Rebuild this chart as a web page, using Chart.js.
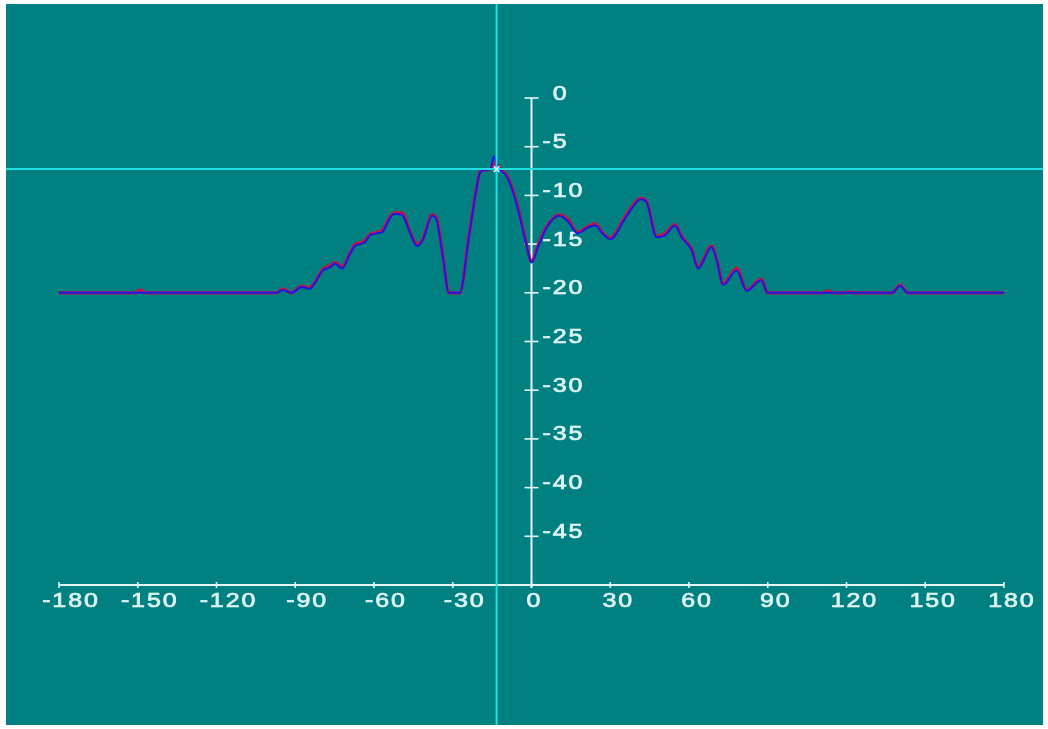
<!DOCTYPE html>
<html>
<head>
<meta charset="utf-8">
<script src="https://cdn.jsdelivr.net/npm/chart.js@4.4.0/dist/chart.umd.min.js"></script>
<style>
  html, body { margin: 0; padding: 0; background: #ffffff; }
  #wrap { width: 1048px; height: 729px; }
</style>
</head>
<body>
<div id="wrap"><canvas id="pattern" width="1048" height="729"></canvas></div>
<script>
// Radiation pattern, level (dB) against angle (degrees)
const blueAngles = [-180, -97, -94.7, -91.5, -87.5, -84.5, -83, -79.5, -76.8, -74.9, -72.2, -69.1, -67.2, -65.3,
  -63.4, -61.5, -58.9, -56.6, -53.9, -52, -49.3, -46.3, -43.6, -41.3, -37.9, -36.2, -33.7, -31.5, -27.3,
  -23.8, -20.4, -19.5, -17.5, -15.5, -14.4, -12.8, -9.3, -6.3, -4, -2, 0, 2.5, 5.8, 10.5, 14, 17.5,
  21.5, 24.2, 27, 29.9, 36.3, 41.7, 44, 47.7, 50.9, 54.7, 57.2, 61, 63.5, 68.6, 70.6, 73, 78.2, 82,
  87.5, 90, 137.4, 140.4, 143.4, 180];
const blueLevels = [-20, -20, -19.7, -20, -19.4, -19.6, -19.2, -17.7, -17.4, -17.0, -17.5, -16.0, -15.2, -15.0,
  -14.8, -14.1, -13.9, -13.7, -12.3, -11.9, -12.0, -13.8, -15.2, -14.5, -12.1, -12.5, -16.4, -20, -20,
  -14.2, -8.5, -7.6, -7.4, -7.3, -6.0, -7.1, -8.1, -10.3, -12.7, -15.0, -16.9, -15.3, -13.3, -12.1, -12.7, -13.9,
  -13.3, -13.1, -13.9, -14.5, -12.1, -10.4, -10.8, -14.3, -14.1, -13.1, -14.3, -15.6, -17.5, -15.3, -16.7, -19.2, -17.7, -19.8,
  -18.7, -20, -20, -19.3, -20, -20];

const redAngles = [-180, -151, -149, -147, -97, -94.7, -91.5, -87.5, -84.5, -83, -79.5, -76.8, -74.9, -72.2, -69.1,
  -67.2, -65.3, -63.4, -61.5, -58.9, -56.6, -53.9, -52, -49.3, -46.3, -43.6, -41.3, -37.9, -36.2, -33.7, -31.5,
  -27.3, -23.8, -20.4, -19.5, -17.5, -15.5, -13.8, -12.8, -9.3, -6.3, -4, -2, 0, 2.5, 5.8, 10.5, 14, 17.5,
  21.5, 24.2, 27, 29.9, 36.3, 41.7, 44, 47.7, 50.9, 54.7, 57.2, 61, 63.5, 68.6, 70.6, 73, 78.2, 82,
  87.5, 90, 111, 113, 115, 119.5, 121, 122.5, 137.4, 140.4, 143.4, 180];
const redLevels = [-20, -20, -19.7, -20, -20, -19.6, -20, -19.3, -19.5, -19.1, -17.6, -17.2, -16.9, -17.3, -15.9,
  -15.0, -14.9, -14.6, -14.0, -13.8, -13.5, -12.2, -11.8, -11.8, -13.7, -15.0, -14.4, -12.0, -12.3, -16.3, -20,
  -20, -14.0, -8.4, -7.5, -7.4, -7.3, -6.6, -7.0, -8.0, -10.1, -12.5, -14.9, -16.8, -15.1, -13.2, -12.0, -12.5, -13.8,
  -13.2, -12.9, -13.8, -14.4, -11.9, -10.3, -10.7, -14.2, -13.9, -13.0, -14.2, -15.5, -17.3, -15.2, -16.6, -19.1, -17.5, -19.7,
  -18.6, -20, -20, -19.8, -20, -20, -19.9, -20, -20, -19.2, -20, -20];

const xTickValues = [-180, -150, -120, -90, -60, -30, 0, 30, 60, 90, 120, 150, 180];
const yTickValues = [0, -5, -10, -15, -20, -25, -30, -35, -40, -45];

// Cursor position (angle, level)
const cursorAngle = -13.3;
const cursorLevel = -7.3;

const toPoints = (xs, ys) => xs.map((x, i) => ({ x: x, y: ys[i] }));

const TEAL = '#008080';
const AXIS = '#e6f6f6';
const LABEL = '#dcf3f3';
const CURSOR = '#22dede';
const FONT = '20px "Liberation Sans", Arial, sans-serif';
const STRETCH = 1.25;
const SPACING = 1.5;

// Width of a label drawn wide with a little extra letter spacing
function labelWidth(ctx, text) {
  let w = 0;
  for (let i = 0; i < text.length; i++) {
    w += ctx.measureText(text[i]).width + (i < text.length - 1 ? SPACING : 0);
  }
  return w * STRETCH;
}

function spacedText(ctx, text, x, y, align) {
  const w = labelWidth(ctx, text);
  const left = align === 'center' ? x - w / 2 : x;
  ctx.save();
  ctx.translate(left, y);
  ctx.scale(STRETCH, 1);
  ctx.textAlign = 'left';
  let cx = 0;
  for (const ch of text) {
    ctx.fillText(ch, cx, 0);
    ctx.strokeText(ch, cx, 0);
    cx += ctx.measureText(ch).width + SPACING;
  }
  ctx.restore();
}

const framePlugin = {
  id: 'frame',
  beforeDraw(chart) {
    const ctx = chart.ctx;
    ctx.save();
    ctx.fillStyle = '#ffffff';
    ctx.fillRect(0, 0, chart.width, chart.height);
    ctx.fillStyle = TEAL;
    ctx.fillRect(6, 4, 1037, 721);
    ctx.restore();
  },
  beforeDatasetsDraw(chart) {
    const ctx = chart.ctx;
    const xs = chart.scales.x, ys = chart.scales.y;
    const x0 = xs.getPixelForValue(0);
    const yBottom = ys.getPixelForValue(-50);
    const yTop = ys.getPixelForValue(0);
    ctx.save();
    ctx.strokeStyle = AXIS;
    ctx.lineWidth = 2;
    // horizontal axis
    ctx.beginPath();
    ctx.moveTo(xs.getPixelForValue(-180), yBottom);
    ctx.lineTo(xs.getPixelForValue(180), yBottom);
    ctx.stroke();
    // vertical axis
    ctx.beginPath();
    ctx.moveTo(x0, yTop);
    ctx.lineTo(x0, yBottom + 3);
    ctx.stroke();
    // ticks
    ctx.lineWidth = 1.6;
    xTickValues.forEach(v => {
      const px = xs.getPixelForValue(v);
      ctx.beginPath();
      ctx.moveTo(px, yBottom - 3);
      ctx.lineTo(px, yBottom + 3);
      ctx.stroke();
    });
    yTickValues.forEach(v => {
      const py = ys.getPixelForValue(v);
      ctx.beginPath();
      ctx.moveTo(x0 - 7, py);
      ctx.lineTo(x0 + 7, py);
      ctx.stroke();
    });
    // labels
    ctx.fillStyle = LABEL;
    ctx.strokeStyle = LABEL;
    ctx.lineWidth = 0.7;
    ctx.font = FONT;
    ctx.textBaseline = 'middle';
    xTickValues.forEach(v => {
      const px = xs.getPixelForValue(v);
      const shift = v < 0 ? 11 : (v === 0 ? 2 : 7);
      spacedText(ctx, String(v), px + shift, yBottom + 16, 'center');
    });
    const minusW = (ctx.measureText('-').width + SPACING) * STRETCH;
    yTickValues.forEach(v => {
      const py = ys.getPixelForValue(v);
      const lead = v < 0 ? 0 : minusW;
      spacedText(ctx, String(v), x0 + 11 + lead, py - 4, 'left');
    });
    ctx.restore();
  },
  beforeDatasetDraw(chart, args) {
    if (args.index !== 2) return;
    const ctx = chart.ctx;
    const px = chart.scales.x.getPixelForValue(cursorAngle);
    const py = chart.scales.y.getPixelForValue(cursorLevel);
    ctx.save();
    ctx.strokeStyle = CURSOR;
    ctx.lineWidth = 2;
    ctx.beginPath();
    ctx.moveTo(px, 4);
    ctx.lineTo(px, 725);
    ctx.moveTo(6, py);
    ctx.lineTo(1043, py);
    ctx.stroke();
    ctx.restore();
  }
};

new Chart(document.getElementById('pattern'), {
  type: 'scatter',
  data: {
    datasets: [
      {
        label: 'Blue',
        data: toPoints(blueAngles, blueLevels),
        showLine: true,
        borderColor: '#1818e6',
        borderWidth: 2,
        pointRadius: 0,
        cubicInterpolationMode: 'monotone',
        order: 2
      },
      {
        label: 'Red',
        data: toPoints(redAngles, redLevels),
        showLine: true,
        borderColor: '#cc1040',
        borderWidth: 3.2,
        pointRadius: 0,
        cubicInterpolationMode: 'monotone',
        order: 3
      },
      {
        label: 'Cursor',
        data: [{ x: cursorAngle, y: cursorLevel }],
        showLine: false,
        pointStyle: 'crossRot',
        pointRadius: 4,
        borderColor: '#e8ffff',
        borderWidth: 1.5,
        clip: false,
        order: 1
      }
    ]
  },
  options: {
    responsive: false,
    animation: false,
    devicePixelRatio: 1,
    layout: { padding: { left: 59, right: 44, top: 98, bottom: 144 } },
    plugins: { legend: { display: false }, tooltip: { enabled: false } },
    scales: {
      x: { type: 'linear', min: -180, max: 180, display: false },
      y: { type: 'linear', min: -50, max: 0, display: false }
    }
  },
  plugins: [framePlugin]
});
</script>
</body>
</html>
